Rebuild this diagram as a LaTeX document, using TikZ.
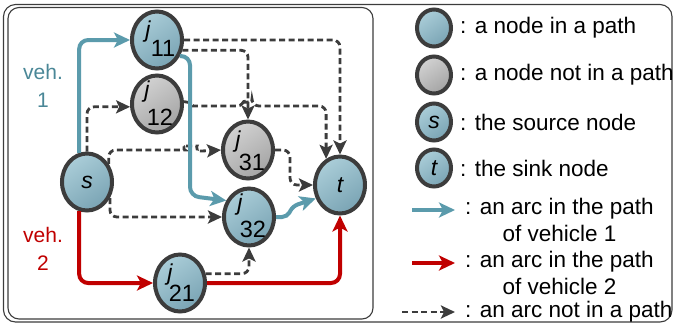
\documentclass[tikz,border=0pt]{standalone}
\usepackage{fontspec}
\setmainfont{Liberation Sans}
\usetikzlibrary{shapes.geometric,arrows.meta}
\definecolor{vblue}{HTML}{5B9BAC}
\definecolor{vtext}{HTML}{4A8797}
\definecolor{vred}{HTML}{C00000}
\definecolor{dgray}{HTML}{3C3C3C}
\definecolor{nbA}{HTML}{AACDD8}
\definecolor{nbB}{HTML}{7AA4B4}
\definecolor{ngA}{HTML}{D2D2D2}
\definecolor{ngB}{HTML}{A4A4A4}
\begin{document}
\begin{tikzpicture}[x=1pt,y=-1pt,
  pnode/.style={ellipse,draw=dgray,line width=4pt,minimum width=50pt,minimum height=57pt,inner sep=0pt,top color=nbA,bottom color=nbB,shading angle=35},
  gnode/.style={pnode,top color=ngA,bottom color=ngB,shading angle=35},
  lpnode/.style={pnode,minimum width=34pt,minimum height=37pt},
  lgnode/.style={gnode,minimum width=34pt,minimum height=37pt},
  jl/.style={inner sep=0pt,font=\fontsize{23}{26}\selectfont\itshape},
  nl/.style={inner sep=0pt,font=\fontsize{23.5}{26}\selectfont},
  v1/.style={draw=vblue,line width=4pt,rounded corners=9pt,-{Stealth[length=16pt,width=15pt,inset=4pt]}},
  v2/.style={v1,draw=vred},
  na/.style={draw=dgray,line width=2.8pt,dash pattern=on 6pt off 3.5pt,rounded corners=7pt,-{Stealth[length=14pt,width=13pt,inset=3pt]}},
  leg/.style={anchor=west,inner sep=0pt,align=center,font=\fontsize{22.5}{26.5}\selectfont},
  vlab/.style={align=center,inner sep=0pt,font=\fontsize{21}{28}\selectfont},
  frame/.style={draw=dgray,line width=1.1pt,rounded corners=12pt}
]
\useasboundingbox (0,0) rectangle (675,325);
% frames
\draw[frame] (3.5,4.5) rectangle (672,322);
\draw[frame,rounded corners=11pt] (8,7.5) rectangle (373,319);

% nodes
\node[pnode] (j11) at (157,40) {};
\node[gnode] (j12) at (157,104) {};
\node[pnode] (s) at (87,182) {};
\node[gnode] (j31) at (248,150) {};
\node[pnode] (j32) at (249,217) {};
\node[pnode] (j21) at (180,283) {};
\node[pnode] (t) at (340,185) {};

% node labels
\node[jl,xshift=-9pt,yshift=8pt] (j11j) at (j11) {j};
\node[nl,xshift=6pt,yshift=-8pt] (j11n) at (j11) {11};
\node[jl,xshift=-10pt,yshift=12pt] (j12j) at (j12) {j};
\node[nl,xshift=3pt,yshift=-13pt] (j12n) at (j12) {12};
\node[jl,xshift=-10pt,yshift=8pt] (j31j) at (j31) {j};
\node[nl,xshift=4pt,yshift=-12pt] (j31n) at (j31) {31};
\node[jl,xshift=-9pt,yshift=12pt] (j32j) at (j32) {j};
\node[nl,xshift=4pt,yshift=-12pt] (j32n) at (j32) {32};
\node[jl,xshift=-10pt,yshift=8pt] (j21j) at (j21) {j};
\node[nl,xshift=2pt,yshift=-10pt] (j21n) at (j21) {21};
\node[jl] (sl) at (s) {s};
\node[jl] (tl) at (t) {t};

% vehicle labels
\node[vlab,text=vtext] (veh1) at (43,86) {veh.\\1};
\node[vlab,text=vred] (veh2) at (43,249) {veh.\\2};

% dashed arcs (not in a path)
\draw[na] (j11.east) -| (t.north);
\draw[na] (j11.-22) -| (j31.north);
\draw[na] (j12.5) to[out=0,in=180] (200,106) -- (244,106) arc[start angle=180,end angle=0,radius=4pt] -| (t.118);
\draw[na] (s.north) |- (j12.186);
\draw[na] (s.40) |- (178,150) to[out=0,in=180] (190,146) to[out=0,in=180] (204,151) -- (j31.west);
\draw[na] (s.-35) |- (j32.west);
\draw[na] (j31.east) -- (290,150) |- (t.west);
\draw[na] (j21.20) -| (j32.south);

% vehicle 1
\draw[v1] (s.105) |- (j11.west);
\draw[v1] (j11.-35) -| (190,196) -- (j32.144);
\draw[v1,rounded corners=5pt] (j32.east) -- (287,217) -- (293,206) -- (t.209);

% vehicle 2
\draw[v2] (s.-105) |- (j21.west);
\draw[v2] (j21.east) -| (t.south);

% legend
\node[lpnode] (lg1) at (434,28) {};
\node[leg] (lt1) at (460,28) {: a node in a path};
\node[lgnode] (lg2) at (434,75) {};
\node[leg] (lt2) at (460,75) {: a node not in a path};
\node[lpnode] (lg3) at (434,122) {};
\node[jl] (lg3l) at (lg3) {s};
\node[leg] (lt3) at (460,122) {: the source node};
\node[lpnode] (lg4) at (434,168) {};
\node[jl] (lg4l) at (lg4) {t};
\node[leg] (lt4) at (460,168) {: the sink node};

\coordinate (la1) at (412,210);
\coordinate (lb1) at (455,210);
\draw[v1] (la1) -- (lb1);
\node[leg] (lt5) at (465,220) {: an arc in the path\\of vehicle 1};
\coordinate (la2) at (412,263);
\coordinate (lb2) at (455,263);
\draw[v2] (la2) -- (lb2);
\node[leg] (lt6) at (465,273) {: an arc in the path\\of vehicle 2};
\coordinate (la3) at (402,312);
\coordinate (lb3) at (455,312);
\draw[na] (la3) -- (lb3);
\node[leg] (lt7) at (465,312) {: an arc not in a path};
\end{tikzpicture}
\end{document}
